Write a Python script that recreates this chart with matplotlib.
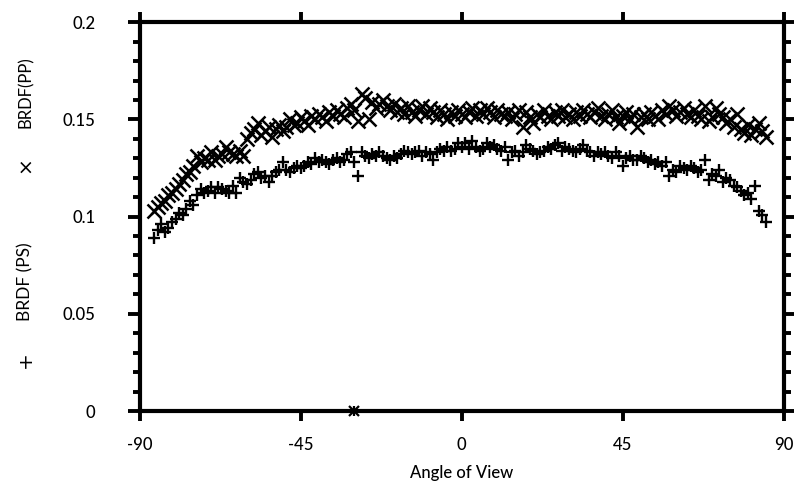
import numpy as np
import matplotlib.pyplot as plt
from matplotlib.ticker import MultipleLocator, FuncFormatter

plt.rcParams['font.family'] = ['Lato', 'DejaVu Sans']
plt.rcParams['axes.unicode_minus'] = False

# viewing angle in degrees, one sample per degree
angles = list(range(-86, 86))

# BRDF(PP), "x" markers
brdf_pp = [0.103, 0.105, 0.107, 0.108, 0.111, 0.112, 0.114, 0.117, 0.119, 0.122,
           0.123, 0.126, 0.131, 0.128, 0.130, 0.129, 0.133, 0.129, 0.131, 0.132,
           0.136, 0.133, 0.132, 0.131, 0.134, 0.131, 0.140, 0.143, 0.145, 0.148,
           0.142, 0.144, 0.146, 0.141, 0.145, 0.147, 0.144, 0.146, 0.150, 0.147,
           0.148, 0.151, 0.149, 0.147, 0.152, 0.150, 0.153, 0.151, 0.149, 0.154,
           0.152, 0.155, 0.153, 0.151, 0.156, 0.158, 0.155, 0.149, 0.163, 0.161,
           0.150, 0.159, 0.156, 0.158, 0.160, 0.157, 0.155, 0.158, 0.154, 0.156,
           0.153, 0.157, 0.154, 0.152, 0.155, 0.157, 0.153, 0.156, 0.154, 0.151,
           0.155, 0.153, 0.150, 0.154, 0.152, 0.155, 0.153, 0.151, 0.154, 0.156,
           0.152, 0.155, 0.153, 0.156, 0.154, 0.151, 0.155, 0.153, 0.152, 0.154,
           0.150, 0.153, 0.155, 0.146, 0.154, 0.151, 0.148, 0.153, 0.151, 0.155,
           0.152, 0.150, 0.154, 0.152, 0.155, 0.151, 0.153, 0.150, 0.154, 0.152,
           0.155, 0.153, 0.151, 0.154, 0.156, 0.152, 0.150, 0.153, 0.155, 0.151,
           0.148, 0.152, 0.154, 0.150, 0.153, 0.146, 0.151, 0.153, 0.150, 0.154,
           0.152, 0.150, 0.155, 0.153, 0.157, 0.155, 0.152, 0.154, 0.156, 0.153,
           0.151, 0.155, 0.152, 0.150, 0.157, 0.149, 0.151, 0.156, 0.153, 0.151,
           0.148, 0.150, 0.146, 0.153, 0.145, 0.143, 0.147, 0.142, 0.145, 0.148,
           0.144, 0.141]

# BRDF (PS), "+" markers
brdf_ps = [0.089, 0.093, 0.096, 0.092, 0.094, 0.097, 0.099, 0.102, 0.101, 0.104,
           0.108, 0.106, 0.111, 0.114, 0.112, 0.113, 0.115, 0.112, 0.115, 0.114,
           0.113, 0.112, 0.116, 0.112, 0.120, 0.118, 0.117, 0.119, 0.122, 0.123,
           0.120, 0.121, 0.118, 0.121, 0.123, 0.124, 0.128, 0.124, 0.123, 0.125,
           0.126, 0.125, 0.126, 0.128, 0.127, 0.130, 0.128, 0.129, 0.128, 0.127,
           0.129, 0.130, 0.128, 0.129, 0.132, 0.133, 0.128, 0.121, 0.133, 0.131,
           0.130, 0.132, 0.131, 0.133, 0.131, 0.130, 0.129, 0.131, 0.130, 0.132,
           0.134, 0.133, 0.132, 0.133, 0.134, 0.131, 0.133, 0.132, 0.129, 0.133,
           0.135, 0.134, 0.136, 0.134, 0.135, 0.138, 0.136, 0.138, 0.135, 0.139,
           0.136, 0.134, 0.135, 0.138, 0.136, 0.137, 0.135, 0.134, 0.136, 0.129,
           0.133, 0.134, 0.131, 0.133, 0.137, 0.135, 0.134, 0.132, 0.133, 0.134,
           0.136, 0.135, 0.137, 0.138, 0.134, 0.136, 0.135, 0.134, 0.133, 0.135,
           0.137, 0.134, 0.133, 0.131, 0.133, 0.132, 0.133, 0.131, 0.130, 0.133,
           0.131, 0.126, 0.130, 0.131, 0.129, 0.129, 0.131, 0.130, 0.128, 0.129,
           0.127, 0.128, 0.126, 0.128, 0.121, 0.124, 0.123, 0.126, 0.125, 0.124,
           0.126, 0.125, 0.123, 0.124, 0.129, 0.119, 0.122, 0.121, 0.124, 0.118,
           0.120, 0.119, 0.116, 0.115, 0.113, 0.111, 0.112, 0.109, 0.116, 0.103,
           0.101, 0.097]

# single zero reading at -30 deg (both polarisations)
zero_angle = [-30]
zero_value = [0.0]

fig = plt.figure(figsize=(7.94, 4.94), dpi=100)
ax = fig.add_axes([0.176, 0.168, 0.811, 0.787])

ax.plot(angles, brdf_pp, 'x', ms=10, mew=1.8, color='black')
ax.plot(angles, brdf_ps, '+', ms=8.5, mew=1.7, color='black')
ax.plot(zero_angle, zero_value, 'x', ms=7, mew=1.6, color='black', clip_on=False, zorder=5)
ax.plot(zero_angle, zero_value, '+', ms=7, mew=1.6, color='black', clip_on=False, zorder=5)

ax.set_xlim(-90, 90)
ax.set_ylim(0, 0.2)

ax.xaxis.set_major_locator(MultipleLocator(45))
ax.yaxis.set_major_locator(MultipleLocator(0.05))
ax.yaxis.set_minor_locator(MultipleLocator(0.01))
ax.yaxis.set_major_formatter(FuncFormatter(lambda v, p: '%g' % round(v, 3)))

for s in ax.spines.values():
    s.set_linewidth(3)

ax.tick_params(axis='x', which='major', direction='out', length=7, width=2.8,
               top=True, bottom=True, labelsize=12, pad=12)
ax.tick_params(axis='y', which='major', direction='out', length=9, width=2.8,
               left=True, right=True, labelsize=12, pad=23)
ax.tick_params(axis='y', which='minor', direction='out', length=5, width=2.8,
               left=True, right=True)
for lab in ax.get_xticklabels() + ax.get_yticklabels():
    lab.set_fontweight('medium')

ax.set_xlabel('Angle of View', fontsize=12, labelpad=8, fontweight='medium')

# rotated legend-like y label, drawn in pieces
lx = 0.032
fig.text(lx, 1 - 360 / 494, '+', rotation=90, ha='center', va='center', fontsize=14.5,
         family='DejaVu Sans')
fig.text(lx, 1 - 282 / 494, 'BRDF (PS)', rotation=90, ha='center', va='center', fontsize=12.5)
fig.text(lx, 1 - 165 / 494, '\u00d7', rotation=90, ha='center', va='center', fontsize=14.5,
         family='DejaVu Sans')
fig.text(lx, 1 - 92 / 494, 'BRDF(PP)', rotation=90, ha='center', va='center', fontsize=12)

plt.savefig('out.png', dpi=100)
